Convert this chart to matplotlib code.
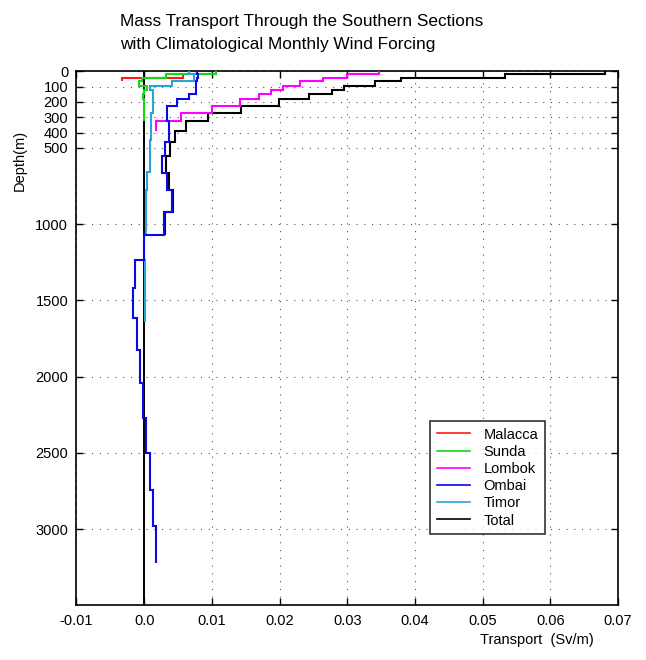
import numpy as np
import matplotlib
matplotlib.use("Agg")
import matplotlib.pyplot as plt

plt.rcParams['font.family'] = ['Liberation Sans', 'DejaVu Sans']

# Layer boundaries (m) and transport per layer (Sv/m) for each strait
malacca_edges = [18, 41, 65]
malacca_vals = [0.0058, -0.0033]

sunda_edges = [0, 18, 41, 65, 93, 119, 147, 182, 326]
sunda_vals = [0.01056, 0.00325, -0.00034, -0.0007, 0.00044, -0.0001, -0.00022, -0.00007]

lombok_edges = [0, 18, 41, 65, 93, 119, 147, 182, 226, 270, 326, 388]
lombok_vals = [0.03476, 0.02994, 0.0264, 0.02304, 0.02058, 0.01876, 0.01703,
               0.01418, 0.01004, 0.00547, 0.00177]

ombai_edges = [0, 18, 41, 65, 147, 182, 226, 326, 460, 553, 667, 776, 918, 1070,
               1234, 1420, 1616, 1824, 2042, 2271, 2500, 2741, 2981, 3221]
ombai_vals = [0.00787, 0.00802, 0.0078, 0.0076, 0.00657, 0.0048, 0.0034, 0.00374,
              0.0031, 0.00261, 0.00335, 0.00409, 0.003, 0.0, -0.00133, -0.00158,
              -0.00108, -0.00059, -0.00019, 0.0003, 0.00089, 0.00129, 0.00177]

timor_edges = [0, 18, 62, 93, 119, 270, 450, 657, 776, 1070, 1234, 1640]
timor_vals = [0.0066, 0.0073, 0.0041, 0.0009, 0.0013, 0.001, 0.0009, 0.0004,
              0.0002, 0.0, 0.00015]

total_edges = [0, 18, 41, 65, 93, 119, 147, 182, 226, 270, 326, 392, 462, 553,
               667, 776, 918, 1070]
total_vals = [0.0681, 0.05325, 0.0379, 0.0341, 0.02954, 0.02777, 0.02437, 0.01994,
              0.01428, 0.00945, 0.0062, 0.00448, 0.00384, 0.0032, 0.0036, 0.0042,
              0.0031]

names = ['Malacca', 'Sunda', 'Lombok', 'Ombai', 'Timor', 'Total']
colors = ['#ff1a1a', '#14d814', '#ff00ff', '#0a0ae6', '#2aa4d6', 'black']
zorders = [4, 4, 4, 5, 4, 3]

yticks = [0, 100, 200, 300, 400, 500, 1000, 1500, 2000, 2500, 3000]
xticks = [-0.01, 0.0, 0.01, 0.02, 0.03, 0.04, 0.05, 0.06, 0.07]
xticklabels = ['-0.01', '0.0', '0.01', '0.02', '0.03', '0.04', '0.05', '0.06', '0.07']

fig = plt.figure(figsize=(6.46, 6.6), dpi=100)
ax = fig.add_axes([0.1184, 0.0826, 0.8383, 0.8091])

# zero line
ax.axvline(0, color='black', lw=1.4, zorder=2)

series = [(malacca_edges, malacca_vals), (sunda_edges, sunda_vals),
          (lombok_edges, lombok_vals), (ombai_edges, ombai_vals),
          (timor_edges, timor_vals), (total_edges, total_vals)]
handles = []
for (edges, vals), name, c, z in zip(series, names, colors, zorders):
    ax.stairs(vals, edges, orientation='horizontal', baseline=None,
              color=c, lw=1.5, label=name, zorder=z)
    handles.append(plt.Line2D([], [], color=c, lw=1.2))

ax.set_xlim(-0.01, 0.07)
ax.set_ylim(3500, 0)
ax.set_xticks(xticks)
ax.set_xticklabels(xticklabels)
ax.set_yticks(yticks)

ax.grid(True, color='#555555', linestyle=(0, (1, 6)), lw=0.8)
ax.tick_params(direction='in', length=5, width=1, top=True, right=True,
               labelsize=10.5, pad=6)
for s in ax.spines.values():
    s.set_linewidth(1.2)

leg = ax.legend(handles, names, loc='upper left', bbox_to_anchor=(0.653, 0.3455),
                fontsize=10.5, frameon=True, fancybox=False, handlelength=2.3,
                borderpad=0.45, labelspacing=0.22, handletextpad=0.9, borderaxespad=0)
leg.get_frame().set_edgecolor('black')
leg.get_frame().set_linewidth(1.2)

fig.text(0.186, 0.968, 'Mass Transport Through the Southern Sections',
         fontsize=12.4, ha='left', va='center')
fig.text(0.186, 0.932, 'with Climatological Monthly Wind Forcing',
         fontsize=12.4, ha='left', va='center')
fig.text(0.031, 0.757, 'Depth(m)', rotation=90, fontsize=10.5, ha='center', va='center')
fig.text(0.831, 0.03, 'Transport  (Sv/m)', fontsize=10.5, ha='center', va='center')

fig.savefig('out.png', dpi=100)
